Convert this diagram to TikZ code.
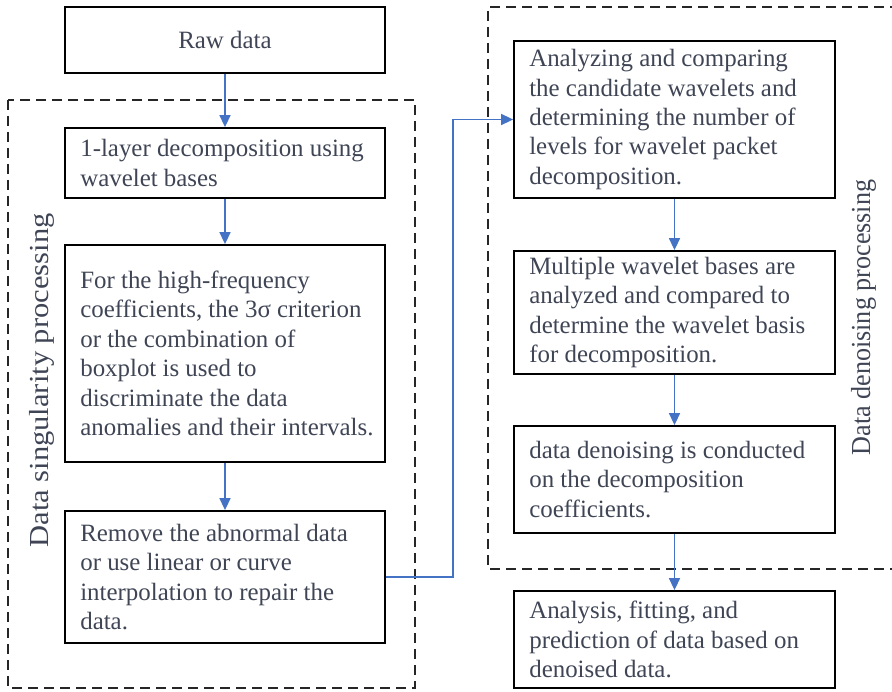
\documentclass[tikz,border=0pt]{standalone}
\usepackage{fontspec}
\setmainfont{Liberation Serif}
\usetikzlibrary{arrows.meta,calc}
\definecolor{txt}{HTML}{3F4555}
\definecolor{arr}{HTML}{4472C4}
\begin{document}
\begin{tikzpicture}[x=1pt,y=-1pt,
  box/.style={draw=black, line width=1.8pt, inner sep=0pt},
  txtnode/.style={inner sep=0pt, align=left, text=txt, font=\fontsize{24.9}{29.4}\selectfont, anchor=west},
  grp/.style={draw=black!85, line width=2pt, dash pattern=on 10pt off 6pt},
  flow/.style={draw=arr, line width=1.6pt, -{Triangle[length=12pt,width=11pt]}},
  side/.style={inner sep=0pt, text=txt, font=\fontsize{27.5}{30}\selectfont, rotate=90, anchor=base}]
\useasboundingbox (0,0) rectangle (892,692);

% group frames
\draw[grp] (8,100) rectangle (415,688);
\begin{scope}
  \clip (0,0) rectangle (892,692);
  \draw[grp] (900,7) -- (488,7) -- (488,569) -- (900,569);
\end{scope}

% boxes
\node[box, minimum width=320pt, minimum height=66pt] (raw) at (225,40) {};
\node[box, minimum width=320pt, minimum height=70pt] (l1) at (225,163) {};
\node[box, minimum width=320pt, minimum height=217pt] (hf) at (225,353.5) {};
\node[box, minimum width=320pt, minimum height=132pt] (rem) at (225,577) {};
\node[box, minimum width=321pt, minimum height=157pt] (ana) at (674.5,119.5) {};
\node[box, minimum width=321pt, minimum height=123pt] (mul) at (674.5,312.5) {};
\node[box, minimum width=321pt, minimum height=107pt] (dd) at (674.5,479.5) {};
\node[box, minimum width=321pt, minimum height=97pt] (an) at (674.5,639.5) {};

% texts
\node[txtnode, anchor=center] (traw) at (raw) {Raw data};
\node[txtnode] (tl1) at ([xshift=16pt]l1.west) {1-layer decomposition using\\wavelet bases};
\node[txtnode] (thf) at ([xshift=16pt]hf.west) {For the high-frequency\\coefficients, the 3σ criterion\\or the combination of\\boxplot is used to\\discriminate the data\\anomalies and their intervals.};
\node[txtnode] (trem) at ([xshift=16pt]rem.west) {Remove the abnormal data\\or use linear or curve\\interpolation to repair the\\data.};
\node[txtnode] (tana) at ([xshift=16pt]ana.west) {Analyzing and comparing\\the candidate wavelets and\\determining the number of\\levels for wavelet packet\\decomposition.};
\node[txtnode] (tmul) at ([xshift=16pt]mul.west) {Multiple wavelet bases are\\analyzed and compared to\\determine the wavelet basis\\for decomposition.};
\node[txtnode] (tdd) at ([xshift=16pt]dd.west) {data denoising is conducted\\on the decomposition\\coefficients.};
\node[txtnode] (tan) at ([xshift=16pt]an.west) {Analysis, fitting, and\\prediction of data based on\\denoised data.};

% side labels
\node[side] (lab1) at (48,380.5) {\scalebox{1.11}[1]{Data singularity processing}};
\node[side] (lab2) at (870,317.5) {\scalebox{0.95}[1]{Data denoising processing}};

% connectors
\draw[flow] (raw.south) -- (l1.north);
\draw[flow] (l1.south) -- (hf.north);
\draw[flow] (hf.south) -- (rem.north);
\coordinate (bend) at (453,577);
\draw[flow] (rem.east) -- (bend) |- (ana.west);
\draw[flow] (ana.south) -- (mul.north);
\draw[flow] (mul.south) -- (dd.north);
\draw[flow] (dd.south) -- (an.north);
\end{tikzpicture}
\end{document}
